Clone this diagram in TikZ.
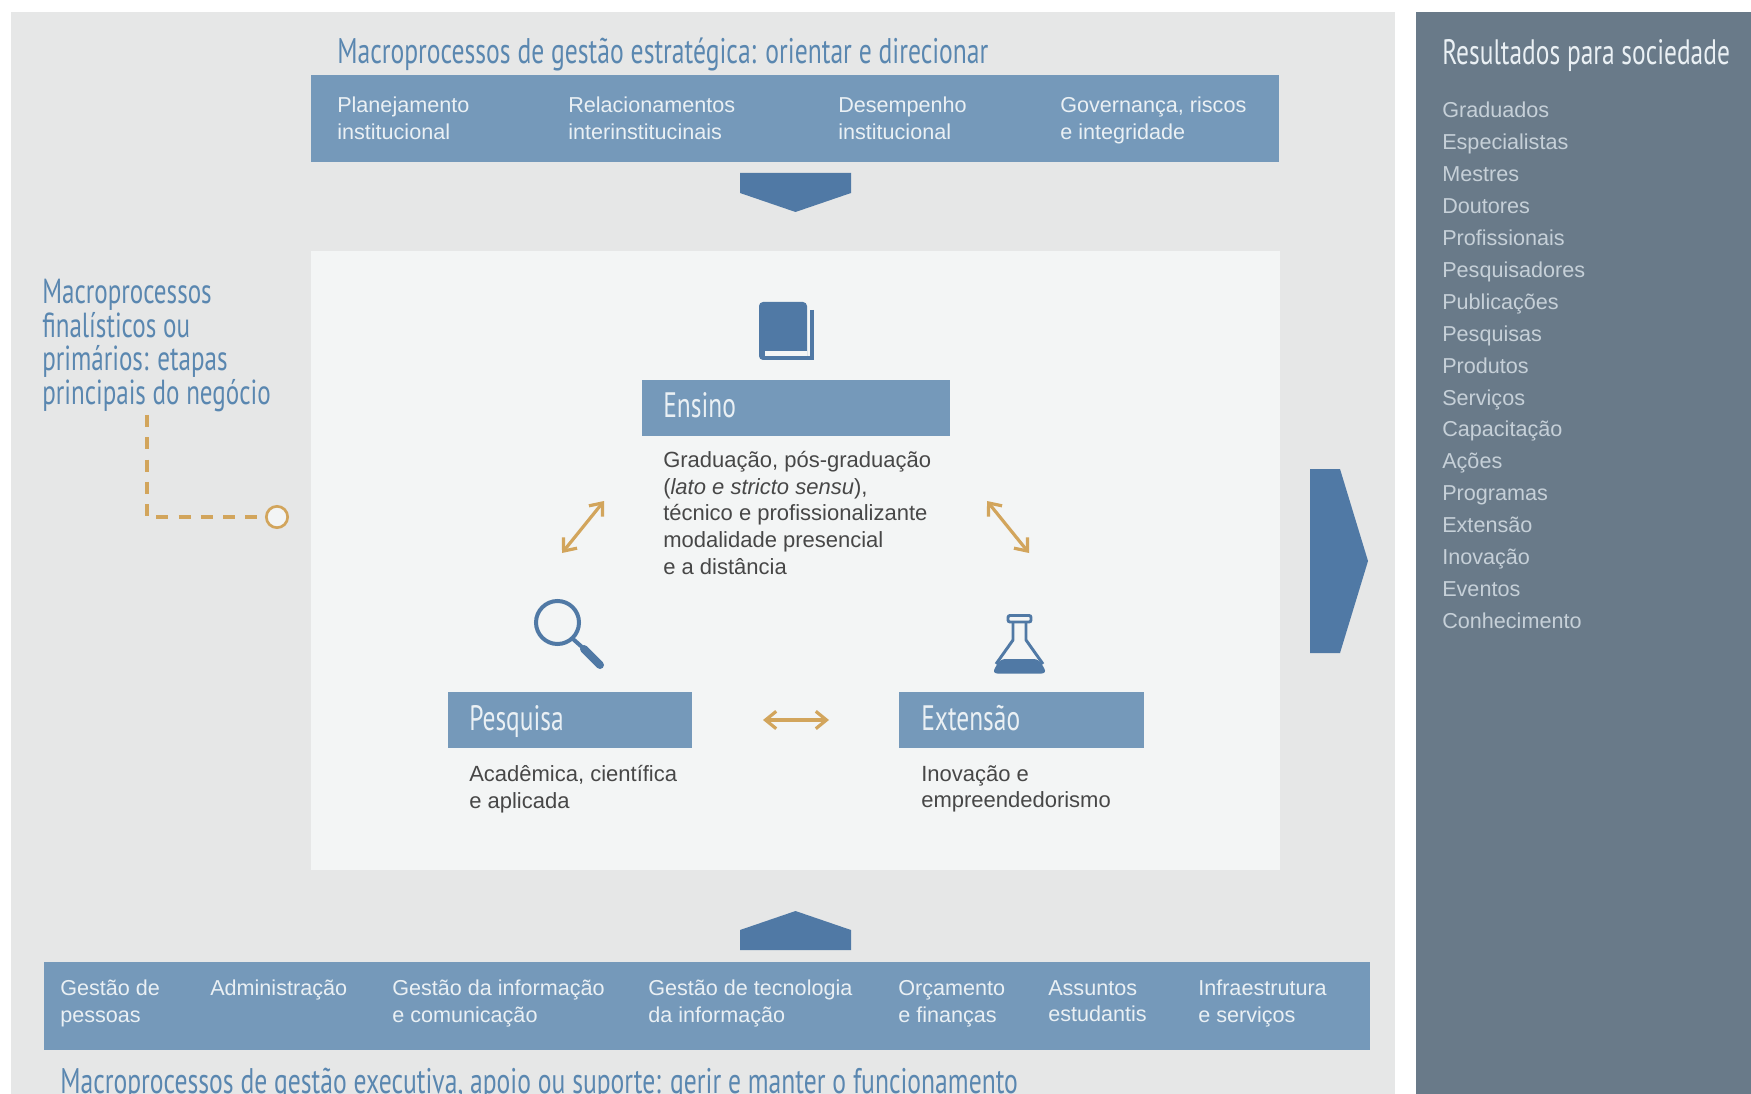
\documentclass[tikz,border=0pt]{standalone}
\usepackage{fontspec}
\setmainfont{Liberation Sans}
\newfontfamily\narrowfont[FakeStretch=0.72]{PT Sans}
\usepackage{tikz}
\usetikzlibrary{arrows.meta}
\definecolor{panelgrey}{HTML}{E6E7E7}
\definecolor{innergrey}{HTML}{F3F5F5}
\definecolor{bandblue}{HTML}{7599BA}
\definecolor{iconblue}{HTML}{5079A5}
\definecolor{slatepanel}{HTML}{697A89}
\definecolor{goldline}{HTML}{D2A55C}
\definecolor{titleblue}{HTML}{5A87B0}
\definecolor{bodydark}{HTML}{474747}
\definecolor{listlight}{HTML}{C6D0D8}
\definecolor{bandlight}{HTML}{EAF0F4}
\tikzset{
  headtext/.style={text=titleblue,font=\narrowfont\fontsize{26.7}{25.1}\selectfont},
  lefthead/.style={text=titleblue,font=\narrowfont\fontsize{26.1}{25.1}\selectfont},
  boxhead/.style={text=bandlight,font=\narrowfont\fontsize{26.5}{25.1}\selectfont},
  bandtext/.style={text=bandlight,font=\fontsize{16.2}{20}\selectfont},
  bodytext/.style={text=bodydark,font=\fontsize{16.5}{20}\selectfont},
  goldarrow/.style={draw=goldline,line width=2.4pt,{Straight Barb[length=8pt,width=13pt]}-{Straight Barb[length=8pt,width=13pt]}},
}
\begin{document}
\begin{tikzpicture}[x=0.75pt,y=0.75pt,yscale=-1,xscale=1]
    \useasboundingbox (0,0) rectangle (1751,1094);

    %Shape: Rectangle [panels]
    \draw [draw=none,fill=panelgrey] (11,12) rectangle (1395,1094);
    \draw [draw=none,fill=slatepanel] (1416,12) rectangle (1751,1094);
    \draw [draw=none,fill=innergrey] (311,251) rectangle (1280,870);
    %Shape: Rectangle [bands]
    \draw [draw=none,fill=bandblue] (311,75) rectangle (1279,162);
    \draw [draw=none,fill=bandblue] (44,962) rectangle (1370,1050);
    \draw [draw=none,fill=bandblue] (642,380) rectangle (950,436);
    \draw [draw=none,fill=bandblue] (448,692) rectangle (692,748);
    \draw [draw=none,fill=bandblue] (899,692) rectangle (1144,748);
    %Shape: Pentagon [big arrows]
    \draw [draw=none,fill=iconblue] (740,173) -- (851,173) -- (851,193) -- (795.5,212) -- (740,193) -- cycle;
    \draw [draw=none,fill=iconblue] (740,950) -- (851,950) -- (851,930) -- (795.5,911) -- (740,930) -- cycle;
    \draw [draw=none,fill=iconblue] (1310,469) -- (1340,469) -- (1368,561) -- (1340,653) -- (1310,653) -- cycle;

    %Shape: Book
    \draw [draw=none,fill=iconblue,rounded corners=3pt] (759,302) rectangle (807,360);
    \draw [draw=none,fill=innergrey] (765,351) rectangle (807,356.5);
    \draw [iconblue,line width=3pt] (812,310) -- (812,358.5) -- (770,358.5);
    %Shape: Magnifier
    \draw [iconblue,line width=3pt] (557.5,622.5) circle [radius=21.5];
    \draw [iconblue,line width=3pt] (573,639) -- (582,647);
    \draw [iconblue,line width=6pt,line cap=round] (584,649) -- (600,665);
    %Shape: Flask
    \draw [iconblue,line width=2.2pt,rounded corners=1.5pt] (1008,615.5) rectangle (1031,622);
    \draw [iconblue,line width=2.2pt,line join=round] (1013,622) -- (1013,640) -- (996,664) (1026,622) -- (1026,640) -- (1043,664);
    \draw [draw=none,fill=iconblue,rounded corners=4pt] (1000,659) -- (1039,659) -- (1047,673.5) -- (992,673.5) -- cycle;

    %Named ends of the double arrows
    \coordinate (ensinoLeft) at (604,501);
    \coordinate (pesquisaTop) at (562,553);
    \coordinate (ensinoRight) at (987,501);
    \coordinate (extensaoTop) at (1029,553);
    \coordinate (pesquisaRight) at (763,720);
    \coordinate (extensaoLeft) at (829,720);
    \draw [goldarrow] (pesquisaTop) -- (ensinoLeft);
    \draw [goldarrow] (ensinoRight) -- (extensaoTop);
    \draw [goldarrow] (pesquisaRight) -- (extensaoLeft);

    % Text Node
    \draw (336,37) node (estrategica) [anchor=north west][inner sep=0.75pt][headtext] [align=left] {Macroprocessos de gestão estratégica: orientar e direcionar};
    % Text Node
    \draw (336,96) node (planejamento) [anchor=north west][inner sep=0.75pt][bandtext] [align=left] {Planejamento\\institucional};
    % Text Node
    \draw (567,96) node (relacionamentos) [anchor=north west][inner sep=0.75pt][bandtext] [align=left] {Relacionamentos\\interinstitucinais};
    % Text Node
    \draw (837,96) node (desempenho) [anchor=north west][inner sep=0.75pt][bandtext] [align=left] {Desempenho\\institucional};
    % Text Node
    \draw (1059,96) node (governanca) [anchor=north west][inner sep=0.75pt][bandtext] [align=left] {Governança, riscos\\e integridade};
    % Text Node
    \draw (41,278) node (finalisticos) [anchor=north west][inner sep=0.75pt][lefthead] [align=left] {Macroprocessos\\finalísticos ou\\primários: etapas\\principais do negócio};
    % Text Node
    \draw (277,517) node (dotEnd) [circle,draw=goldline,fill=innergrey,line width=2pt,minimum size=16,inner sep=0pt] {};
    \coordinate (dashStart) at (147,415);
    \draw [goldline,line width=3pt,dash pattern=on 9 off 7.7] (dashStart) |- (dotEnd);
    % Text Node
    \draw (662,391) node (ensino) [anchor=north west][inner sep=0.75pt][boxhead] [align=left] {Ensino};
    % Text Node
    \draw (468,704) node (pesquisa) [anchor=north west][inner sep=0.75pt][boxhead] [align=left] {Pesquisa};
    % Text Node
    \draw (920,704) node (extensao) [anchor=north west][inner sep=0.75pt][boxhead] [align=left] {Extensão};
    % Text Node
    \draw (662,450) node (ensinoText) [anchor=north west][inner sep=0.75pt][bodytext] [align=left] {Graduação, pós-graduação\\(\textit{lato e stricto sensu}),\\técnico e profissionalizante\\modalidade presencial\\e a distância};
    % Text Node
    \draw (468,764) node (pesquisaText) [anchor=north west][inner sep=0.75pt][bodytext] [align=left] {Acadêmica, científica\\e aplicada};
    % Text Node
    \draw (920,764) node (extensaoText) [anchor=north west][inner sep=0.75pt][bodytext] [align=left] {Inovação e\\empreendedorismo};
    % Text Node
    \draw (59,979) node (pessoas) [anchor=north west][inner sep=0.75pt][bandtext] [align=left] {Gestão de\\pessoas};
    % Text Node
    \draw (209,979) node (administracao) [anchor=north west][inner sep=0.75pt][bandtext] [align=left] {Administração};
    % Text Node
    \draw (391,979) node (informacao) [anchor=north west][inner sep=0.75pt][bandtext] [align=left] {Gestão da informação\\e comunicação};
    % Text Node
    \draw (647,979) node (tecnologia) [anchor=north west][inner sep=0.75pt][bandtext] [align=left] {Gestão de tecnologia\\da informação};
    % Text Node
    \draw (897,979) node (orcamento) [anchor=north west][inner sep=0.75pt][bandtext] [align=left] {Orçamento\\e finanças};
    % Text Node
    \draw (1047,979) node (assuntos) [anchor=north west][inner sep=0.75pt][bandtext] [align=left] {Assuntos\\estudantis};
    % Text Node
    \draw (1197,979) node (infraestrutura) [anchor=north west][inner sep=0.75pt][bandtext] [align=left] {Infraestrutura\\e serviços};
    % Text Node
    \draw (59,1067) node (executiva) [anchor=north west][inner sep=0.75pt][headtext] [align=left] {Macroprocessos de gestão executiva, apoio ou suporte: gerir e manter o funcionamento};
    % Text Node
    \draw (1441,38) node (resultados) [anchor=north west][inner sep=0.75pt][boxhead] [align=left] {Resultados para sociedade};
    % Text Node
    \draw (1441,101) node (listaResultados) [anchor=north west][inner sep=0.75pt][text=listlight,font=\fontsize{16.2}{23.93}\selectfont] [align=left] {Graduados\\Especialistas\\Mestres\\Doutores\\Profissionais\\Pesquisadores\\Publicações\\Pesquisas\\Produtos\\Serviços\\Capacitação\\Ações\\Programas\\Extensão\\Inovação\\Eventos\\Conhecimento};
\end{tikzpicture}
\end{document}
